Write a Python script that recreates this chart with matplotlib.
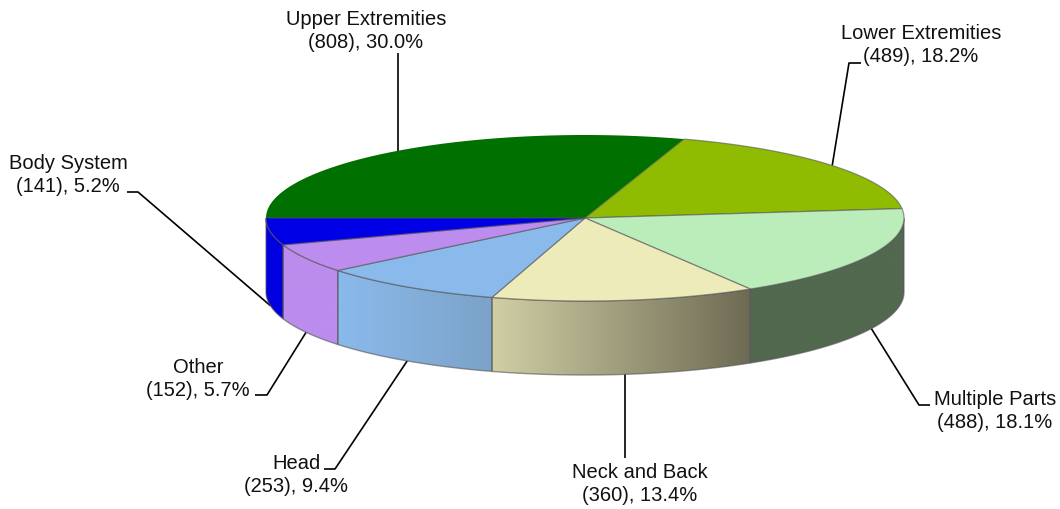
import numpy as np
import matplotlib
matplotlib.use("Agg")
import matplotlib.pyplot as plt
from matplotlib.colors import to_rgb
from matplotlib.patches import Polygon

plt.rcParams['font.family'] = ['Liberation Sans', 'DejaVu Sans']

# slices clockwise, starting from the left edge of the pie
categories = ["Upper Extremities", "Lower Extremities", "Multiple Parts", "Neck and Back", "Head", "Other", "Body System"]
counts = [808, 489, 488, 360, 253, 152, 141]
percents = ["30.0%", "18.2%", "18.1%", "13.4%", "9.4%", "5.7%", "5.2%"]
top_colors = ["#007000", "#8FBC00", "#BBEDBB", "#EEEBBB", "#8ABAEC", "#BC8CEE", "#0000E6"]
side_left = ["#007000", "#8FBC00", "#52684F", "#D0CEA4", "#8ABAEC", "#BC8CEE", "#0000E0"]
side_right = ["#007000", "#8FBC00", "#52684F", "#6E6B54", "#7CA3C8", "#BC8CEE", "#0000E0"]

# label centres and leader elbows, in pixels
label_pos = [(366, 31), (921, 45), (995, 411), (640, 484), (296, 475), (198, 379), (68, 175)]
elbows = [None, [(849, 64), (861, 64)], [(919, 406), (930, 406)], None,
          [(335, 470), (324, 470)], [(267, 396), (255, 396)], [(138, 193), (127, 193)]]
leader_end = [54, None, None, 459, None, None, None]

cx, cy, rx, ry, depth = 585, 219, 319, 83, 74


def rim(a0, a1, dy=0.0, n=120):
    t = np.radians(np.linspace(a0, a1, n))
    return np.column_stack([cx + rx * np.cos(t), cy - ry * np.sin(t) + dy])


fig = plt.figure(figsize=(10.6, 5.1), dpi=100)
ax = fig.add_axes([0, 0, 1, 1])
ax.set_xlim(0, 1060)
ax.set_ylim(510, 0)
ax.axis("off")

fractions = np.array(counts) / sum(counts)
edges = 180 - 360 * np.concatenate([[0], np.cumsum(fractions)])

# side wall, only the front half of the pie shows it
for i in range(len(counts)):
    a0, a1 = min(edges[i], 0), edges[i + 1]
    if edges[i + 1] >= 0:
        continue
    pts = np.vstack([rim(a0, a1), rim(a1, a0, depth)])
    poly = Polygon(pts, closed=True, facecolor="none", edgecolor="#55555599", linewidth=1.0, zorder=3)
    ax.add_patch(poly)
    c0 = np.array(to_rgb(side_left[i]))
    c1 = np.array(to_rgb(side_right[i]))
    # slices run right to left, so the gradient is set by x not by angle
    grad = np.linspace(c0, c1, 64)[None, :, :]
    im = ax.imshow(grad, extent=(pts[:, 0].min(), pts[:, 0].max(), pts[:, 1].max(), pts[:, 1].min()),
                   aspect="auto", interpolation="bilinear", zorder=2)
    im.set_clip_path(poly)

# top face
for i in range(len(counts)):
    pts = np.vstack([[cx, cy], rim(edges[i], edges[i + 1])])
    line = "none" if i == 0 else "#55555599"
    ax.add_patch(Polygon(pts, closed=True, facecolor=top_colors[i], edgecolor=line, linewidth=0.9, zorder=4))

# labels and leaders
for i, name in enumerate(categories):
    mid = np.radians((edges[i] + edges[i + 1]) / 2)
    x = cx + rx * np.cos(mid)
    y = cy - ry * np.sin(mid) + (depth if np.sin(mid) < 0 else 0)
    if elbows[i] is None:
        xs, ys = [x, x], [y, leader_end[i]]
    else:
        xs = [x] + [p[0] for p in elbows[i]]
        ys = [y] + [p[1] for p in elbows[i]]
    ax.plot(xs, ys, color="black", linewidth=1.2, solid_capstyle="butt", zorder=1)
    ax.text(label_pos[i][0], label_pos[i][1], f"{name}\n({counts[i]}), {percents[i]}",
            ha="center", va="center", ma="center", fontsize=14.5, color="#111111", linespacing=1.3)

ax.set_xlim(0, 1060)
ax.set_ylim(510, 0)
fig.savefig("out.png", dpi=100, facecolor="white")
